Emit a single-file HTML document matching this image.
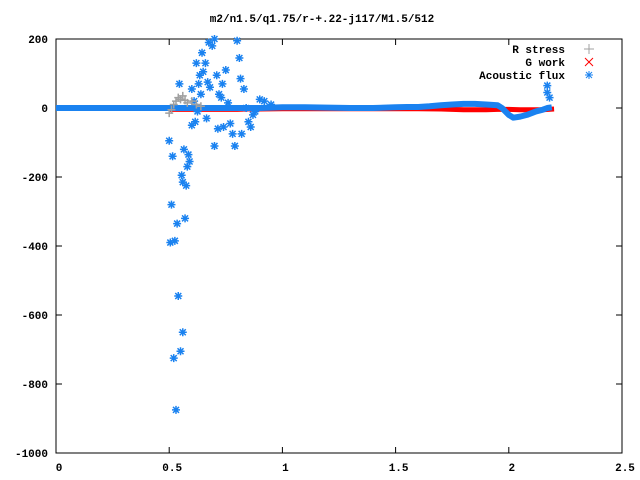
<!DOCTYPE html>
<html><head><meta charset="utf-8"><style>
body{margin:0;background:#fff}
svg{display:block;font-family:"Liberation Mono",monospace;font-size:11px;font-weight:bold}
</style></head><body>
<svg id="chart" width="640" height="480" xmlns="http://www.w3.org/2000/svg">
<text x="322" y="22" text-anchor="middle">m2/n1.5/q1.75/r-+.22-j117/M1.5/512</text>
<rect x="56" y="39" width="566" height="414" fill="none" stroke="#000"/>
<g id="axes"></g><g id="series"></g>
<g>
<text x="565" y="53" text-anchor="end">R stress</text>
<text x="565" y="66" text-anchor="end">G work</text>
<text x="565" y="79" text-anchor="end">Acoustic flux</text>
<g stroke="#a0a0a0"><line x1="584" y1="49" x2="594" y2="49"/><line x1="589" y1="44" x2="589" y2="54"/></g>
<g stroke="#ff0000"><line x1="585" y1="58" x2="593" y2="66"/><line x1="585" y1="66" x2="593" y2="58"/></g>
<g stroke="#1a82f0"><line x1="585" y1="75" x2="593" y2="75"/><line x1="589" y1="71" x2="589" y2="79"/><line x1="586" y1="72" x2="592" y2="78"/><line x1="586" y1="78" x2="592" y2="72"/></g>
</g>
</svg>
<script>
const xTicks=[0,0.5,1,1.5,2,2.5];
const xTickLabels=["0","0.5","1","1.5","2","2.5"];
const yTicks=[200,0,-200,-400,-600,-800,-1000];
const yTickLabels=["200","0","-200","-400","-600","-800","-1000"];
const rStressX=[0.50,0.51,0.52,0.53,0.54,0.55,0.56,0.57,0.58,0.60,0.62,0.64];
const rStressY=[-15,-5,10,20,30,25,35,22,15,20,10,5];
const gWorkX=[0.50,0.55,0.60,0.65,0.70,0.75,0.80,0.85,0.90,1.0,1.1,1.2,1.3,1.4,1.5,1.6,1.7,1.75,1.8,1.85,1.9,1.95,2.0,2.05,2.1,2.15,2.2];
const gWorkY=[-4,-4,-4,-4,-4,-4,-4,-3,-3,-2,-2,-2,-2,-2,-2,-2,-3,-4,-5,-5,-5,-4,-4,-5,-5,-5,-3];
const fluxBandX=[0,0.1,0.2,0.3,0.4,0.5,0.6,0.7,0.8,0.9,1.0,1.1,1.2,1.3,1.4,1.5,1.55,1.6,1.65,1.7,1.75,1.8,1.85,1.9,1.95,1.97,2.0,2.02,2.05,2.08,2.1,2.12,2.15,2.17,2.19];
const fluxBandY=[0,0,0,0,0,0,0,0,0,0,2,2,1,0,0,2,3,3,5,8,10,12,12,10,8,0,-20,-28,-25,-20,-15,-10,-5,0,2];
const fluxScatX=[0.5,0.505,0.51,0.515,0.52,0.525,0.53,0.535,0.54,0.545,0.55,0.555,0.56,0.56,0.565,0.57,0.575,0.58,0.585,0.59,0.6,0.6,0.61,0.615,0.62,0.625,0.63,0.635,0.64,0.645,0.65,0.66,0.665,0.67,0.675,0.68,0.69,0.7,0.7,0.71,0.715,0.72,0.73,0.735,0.74,0.75,0.76,0.77,0.78,0.79,0.8,0.81,0.815,0.82,0.83,0.84,0.85,0.86,0.87,0.88,0.9,0.92,0.95,2.17,2.17,2.18];
const fluxScatY=[-95,-390,-280,-140,-725,-385,-875,-335,-545,70,-705,-195,-650,-215,-120,-320,-225,-170,-135,-155,-50,55,20,-40,130,-10,70,95,40,160,105,130,-30,75,190,60,180,200,-110,95,-60,40,30,70,-55,110,15,-45,-75,-110,195,145,85,-75,55,0,-40,-55,-20,-10,25,20,10,45,65,30];
const X=v=>56+v/2.5*566, Y=v=>108-v*0.345;
const NS="http://www.w3.org/2000/svg";
function mk(tag,attrs,parent){const e=document.createElementNS(NS,tag);for(const k in attrs)e.setAttribute(k,attrs[k]);parent.appendChild(e);return e;}
const axes=document.getElementById('axes'), ser=document.getElementById('series');
xTicks.forEach((t,i)=>{
 const g=mk('g',{},axes);
 
 
 mk('line',{x1:X(t),x2:X(t),y1:453,y2:447,stroke:'#000'},g);
 mk('line',{x1:X(t),x2:X(t),y1:39,y2:45,stroke:'#000'},g);
 const tx=mk('text',{x:X(t)+3,y:471,'text-anchor':'middle'},g);tx.textContent=xTickLabels[i];
});
yTicks.forEach((t,i)=>{
 const g=mk('g',{},axes);
 
 
 mk('line',{x1:56,x2:62,y1:Y(t),y2:Y(t),stroke:'#000'},g);
 mk('line',{x1:622,x2:616,y1:Y(t),y2:Y(t),stroke:'#000'},g);
 const tx=mk('text',{x:48,y:Y(t)+4,'text-anchor':'end'},g);tx.textContent=yTickLabels[i];
});
function star(g,x,y,c){mk('path',{d:`M${x-4} ${y}h8M${x} ${y-4}v8M${x-3} ${y-3}l6 6M${x-3} ${y+3}l6 -6`,stroke:c,'stroke-width':1.5,fill:'none'},g);}
function plus(g,x,y,c){mk('path',{d:`M${x-4} ${y}h8M${x} ${y-4}v8`,stroke:c,'stroke-width':1.5,fill:'none'},g);}
const gr=mk('g',{},ser);


mk('polyline',{points:gWorkX.map((x,i)=>X(x)+','+Y(gWorkY[i])).join(' '),fill:'none',stroke:'#ff0000','stroke-width':5},gr);
const gb=mk('g',{},ser);


let pts=fluxBandX.map((x,i)=>X(x)+','+Y(fluxBandY[i])).join(' ');
mk('polyline',{points:pts,fill:'none',stroke:'#1a82f0','stroke-width':6,'stroke-linejoin':'round'},gb);
fluxScatX.forEach((x,i)=>star(gb,X(x),Y(fluxScatY[i]),'#1a82f0'));
const gs=mk('g',{},ser);


rStressX.forEach((x,i)=>plus(gs,X(x),Y(rStressY[i]),'#a0a0a0'));
</script>
</body></html>
